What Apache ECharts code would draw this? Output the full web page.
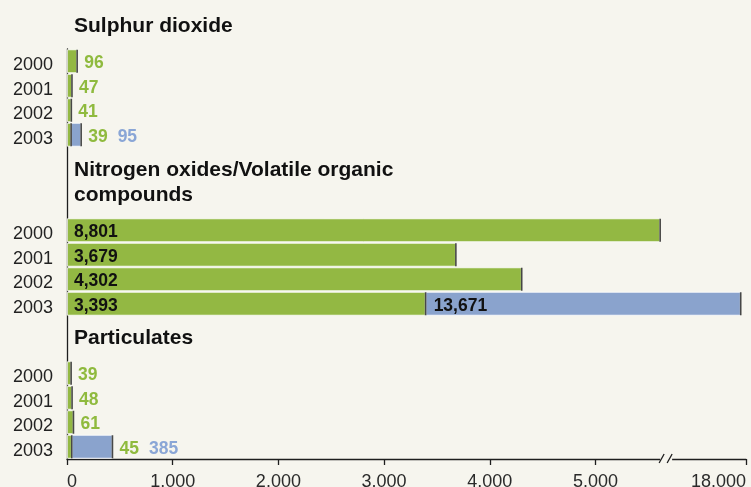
<!DOCTYPE html>
<html><head><meta charset="utf-8">
<script src="https://cdn.jsdelivr.net/npm/echarts@6/dist/echarts.min.js"></script>
<style>html,body{margin:0;padding:0;background:#f6f5ee}#c{width:751px;height:487px}</style>
</head><body><div id="c"></div>
<script>
// ---- data ----
const years = ['2000', '2001', '2002', '2003'];
const groupTitles = ['Sulphur dioxide', 'Nitrogen oxides/Volatile organic\ncompounds', 'Particulates'];
const so2Green = [96, 47, 41, 39];
const so2Blue = [null, null, null, 95];
const noxGreen = [8801, 3679, 4302, 3393];
const noxBlue = [null, null, null, 13671];
const pmGreen = [39, 48, 61, 45];
const pmBlue = [null, null, null, 385];
const tickValues = [0, 1000, 2000, 3000, 4000, 5000, 18000];
const tickLabels = ['0', '1.000', '2.000', '3.000', '4.000', '5.000', '18.000'];

// ---- styling ----
const FONT = 'Liberation Sans';
const GREEN = '#93b843', BLUE = '#8aa3cd';
const GREEN_TXT = '#8fba3e', BLUE_TXT = '#8aa6d6';
const BG = '#f6f5ee';
const AXIS = '#1e1e1e';

const groups = [
  { green: so2Green, blue: so2Blue, inside: false },
  { green: noxGreen, blue: noxBlue, inside: true },
  { green: pmGreen, blue: pmBlue, inside: false }
];
const gridTops = [49, 218, 361];
const gridH = 98;
const titleTops = [13, 157, 325];
const LBL_OFF = [0, 2];

function xAxisFor(i, show) {
  return {
    type: 'value', gridIndex: i, min: 0, max: 18000,
    breaks: [
      { start: 5600, end: 8790, gap: 1 },
      { start: 8810, end: 17050, gap: 739 },
      { start: 17080, end: 17990, gap: 24 }
    ],
    breakArea: { show: false, itemStyle: { opacity: 0, borderWidth: 0 } },
    show: show,
    axisLine: { show: false },
    axisTick: { show: show, customValues: tickValues, length: 6, lineStyle: { color: AXIS, width: 1.3 } },
    axisLabel: {
      show: show, customValues: tickValues, margin: 14,
      alignMinLabel: 'left', alignMaxLabel: 'right',
      formatter: v => { const k = tickValues.indexOf(v); return k >= 0 ? tickLabels[k] : ''; },
      fontFamily: FONT, fontSize: 18, color: '#2a2a2a'
    },
    splitLine: { show: false }
  };
}

const grid = [], xAxis = [], yAxis = [], series = [], title = [];
groups.forEach((g, i) => {
  grid.push({ left: 67, right: 5, top: gridTops[i], height: gridH, outerBoundsMode: 'none', containLabel: false });
  xAxis.push(xAxisFor(i, i === 2));
  yAxis.push({
    type: 'category', gridIndex: i, data: years, inverse: true,
    axisLine: { show: false }, axisTick: { show: false },
    axisLabel: { margin: 14, verticalAlign: 'top', lineHeight: 8, fontFamily: FONT, fontSize: 18, color: '#222' }
  });
  title.push({
    text: groupTitles[i], left: 74, top: titleTops[i], padding: 0,
    textStyle: { fontFamily: FONT, fontSize: 21, fontWeight: 'bold', color: '#111', lineHeight: 25.5 }
  });
  const greenData = g.green.map((v, k) => {
    let label;
    if (g.inside) {
      label = { show: true, position: 'insideLeft', distance: 7, offset: LBL_OFF, formatter: v.toLocaleString('en-US'),
        color: '#111', fontWeight: 'bold', fontSize: 17.5, fontFamily: FONT };
    } else if (g.blue[k] == null) {
      label = { show: true, position: 'right', distance: 7, offset: LBL_OFF, formatter: String(v),
        color: GREEN_TXT, fontWeight: 'bold', fontSize: 17.5, fontFamily: FONT };
    } else {
      label = { show: false };
    }
    return { value: v, label };
  });
  const blueData = g.blue.map((v, k) => {
    if (v == null) return '-';
    let label;
    if (g.inside) {
      label = { show: true, position: 'insideLeft', distance: 8, offset: LBL_OFF, formatter: v.toLocaleString('en-US'),
        color: '#111', fontWeight: 'bold', fontSize: 17.5, fontFamily: FONT };
    } else {
      label = { show: true, position: 'right', distance: 7, offset: LBL_OFF,
        formatter: '{g|' + g.green[k] + '}{b|' + v + '}',
        rich: {
          g: { color: GREEN_TXT, fontWeight: 'bold', fontSize: 17.5, fontFamily: FONT, padding: [0, 10, 0, 0] },
          b: { color: BLUE_TXT, fontWeight: 'bold', fontSize: 17.5, fontFamily: FONT }
        } };
    }
    return { value: v, label };
  });
  series.push({
    type: 'bar', xAxisIndex: i, yAxisIndex: i, stack: 's' + i, data: greenData,
    barCategoryGap: '3%', itemStyle: { color: GREEN, borderColor: '#ffffff', borderWidth: 0.8 }, silent: true
  });
  series.push({
    type: 'bar', xAxisIndex: i, yAxisIndex: i, stack: 's' + i, data: blueData,
    barCategoryGap: '3%', itemStyle: { color: BLUE, borderColor: '#ffffff', borderWidth: 0.8 }, silent: true
  });
  const caps = [];
  g.green.forEach((v, k) => {
    caps.push([v, k]);
    if (g.blue[k] != null) caps.push([v + g.blue[k], k]);
  });
  series.push({
    type: 'scatter', xAxisIndex: i, yAxisIndex: i, data: caps, symbol: 'rect',
    symbolSize: [1.6, 23], itemStyle: { color: '#1c1c1c' }, z: 5, silent: true
  });
});
// full-height frame: vertical axis line and bottom axis line
grid.push({ left: 67, right: 5, top: 49, bottom: 28, outerBoundsMode: 'none', containLabel: false });
xAxis.push({ type: 'value', gridIndex: 3, min: 0, max: 1,
  axisLine: { show: true, lineStyle: { color: AXIS, width: 1.3 } },
  axisTick: { show: false }, axisLabel: { show: false }, splitLine: { show: false } });
yAxis.push({ type: 'value', gridIndex: 3, min: 0, max: 1,
  axisLine: { show: true, lineStyle: { color: AXIS, width: 1.3 } },
  axisTick: { show: false }, axisLabel: { show: false }, splitLine: { show: false } });

const chart = echarts.init(document.getElementById('c'), null, { renderer: 'canvas' });
chart.setOption({ backgroundColor: BG, animation: false, title, grid, xAxis, yAxis, series });

// break marker "//" on the bottom axis, at the start of the main break
const bx = chart.convertToPixel({ xAxisIndex: 2 }, 8810);
const axisY = gridTops[2] + gridH;
chart.setOption({ graphic: [
  { type: 'rect', shape: { x: bx - 1, y: axisY - 3, width: 12, height: 6 }, style: { fill: BG }, z: 100 },
  { type: 'line', shape: { x1: bx - 2, y1: axisY + 4, x2: bx + 3, y2: axisY - 5 }, style: { stroke: AXIS, lineWidth: 1.3 }, z: 101 },
  { type: 'line', shape: { x1: bx + 6, y1: axisY + 4, x2: bx + 11, y2: axisY - 5 }, style: { stroke: AXIS, lineWidth: 1.3 }, z: 101 }
] });
</script>
</body></html>
